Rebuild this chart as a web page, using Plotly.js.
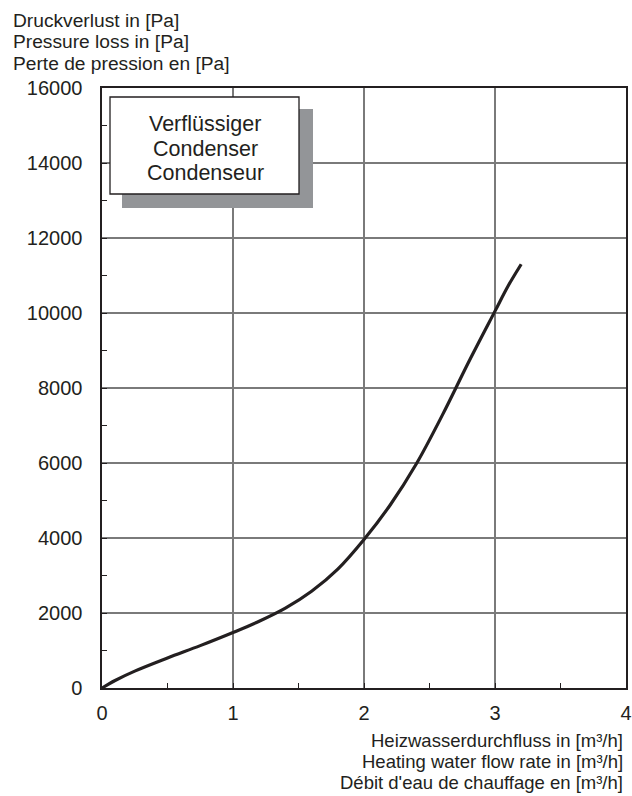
<!DOCTYPE html>
<html>
<head>
<meta charset="utf-8">
<script src="https://cdn.plot.ly/plotly-3.0.1.min.js"></script>
<style>html,body{margin:0;padding:0;background:#fff;}#chart{width:632px;height:796px;}</style>
</head>
<body>
<div id="chart"></div>
<script>
// Data
const flowRate = [0, 0.1, 0.25, 0.5, 0.75, 1.0, 1.2, 1.4, 1.6, 1.8, 2.0, 2.2, 2.4, 2.6, 2.8, 3.0, 3.1, 3.2];
const pressureLoss = [0, 200, 450, 800, 1130, 1480, 1780, 2130, 2580, 3170, 3960, 4880, 5980, 7290, 8700, 10050, 10720, 11300];
const yTitleLines = ["Druckverlust in [Pa]", "Pressure loss in [Pa]", "Perte de pression en [Pa]"];
const xTitleLines = ["Heizwasserdurchfluss in [m³/h]", "Heating water flow rate in [m³/h]", "Débit d'eau de chauffage en [m³/h]"];
const boxLines = ["Verflüssiger", "Condenser", "Condenseur"];

const FONT = "Liberation Sans, Arial, sans-serif";
const TXT = "#231f20";

const trace = {
  x: flowRate, y: pressureLoss, type: "scatter", mode: "lines",
  line: {color: "#231f20", width: 3.2, shape: "spline", smoothing: 1},
  hoverinfo: "skip"
};

const annotations = [];
yTitleLines.forEach((t, i) => annotations.push({
  text: t, xref: "paper", yref: "paper", x: (11-102)/524, y: (688 - (20 + 21.7*i))/600,
  xanchor: "left", yanchor: "middle", showarrow: false, font: {family: FONT, size: 19.2, color: TXT}
}));
xTitleLines.forEach((t, i) => annotations.push({
  text: t, xref: "paper", yref: "paper", x: (625-102)/524, y: (688 - (740 + 21.5*i))/600,
  xanchor: "right", yanchor: "middle", showarrow: false, font: {family: FONT, size: 18.5, color: TXT}
}));
boxLines.forEach((t, i) => annotations.push({
  text: t, xref: "paper", yref: "paper", x: (205-102)/524, y: (688 - (124 + 24.5*i))/600,
  xanchor: "center", yanchor: "middle", showarrow: false, font: {family: FONT, size: 21.5, color: TXT}
}));

const px2x = p => (p - 102)/524;
const px2y = p => (688 - p)/600;

const shapes = [
  {type: "rect", xref: "paper", yref: "paper", x0: px2x(122), x1: px2x(313), y0: px2y(208), y1: px2y(109),
   fillcolor: "#939598", line: {width: 0}, layer: "above"},
  {type: "rect", xref: "paper", yref: "paper", x0: px2x(110), x1: px2x(299), y0: px2y(194), y1: px2y(97),
   fillcolor: "#ffffff", line: {color: "#231f20", width: 1.3}, layer: "above"}
];

const layout = {
  width: 632, height: 796,
  margin: {l: 102, r: 6, t: 88, b: 108},
  paper_bgcolor: "#ffffff", plot_bgcolor: "#ffffff",
  showlegend: false,
  font: {family: FONT, color: TXT, size: 20},
  xaxis: {
    range: [0, 4], dtick: 1, tick0: 0, fixedrange: true,
    showgrid: true, gridcolor: "#7a7a7a", gridwidth: 1.2,
    showline: true, linecolor: "#231f20", linewidth: 1.6, mirror: true,
    ticks: "inside", ticklen: 5, tickcolor: "#231f20", tickwidth: 1,
    minor: {dtick: 0.5, ticks: "inside", ticklen: 5, tickcolor: "#231f20", showgrid: false},
    zeroline: false, tickfont: {family: FONT, size: 20, color: TXT}, ticklabelstandoff: 6
  },
  yaxis: {
    range: [0, 16000], dtick: 2000, tick0: 0, fixedrange: true,
    showgrid: true, gridcolor: "#7a7a7a", gridwidth: 1.2,
    showline: true, linecolor: "#231f20", linewidth: 1.6, mirror: true,
    ticks: "inside", ticklen: 5, tickcolor: "#231f20", tickwidth: 1,
    minor: {dtick: 1000, ticks: "inside", ticklen: 5, tickcolor: "#231f20", showgrid: false},
    zeroline: false, tickfont: {family: FONT, size: 20, color: TXT}, ticklabelstandoff: 14,
    separatethousands: false, tickformat: "d"
  },
  annotations: annotations,
  shapes: shapes
};

Plotly.newPlot("chart", [trace], layout, {displayModeBar: false, staticPlot: true});
</script>
</body>
</html>
